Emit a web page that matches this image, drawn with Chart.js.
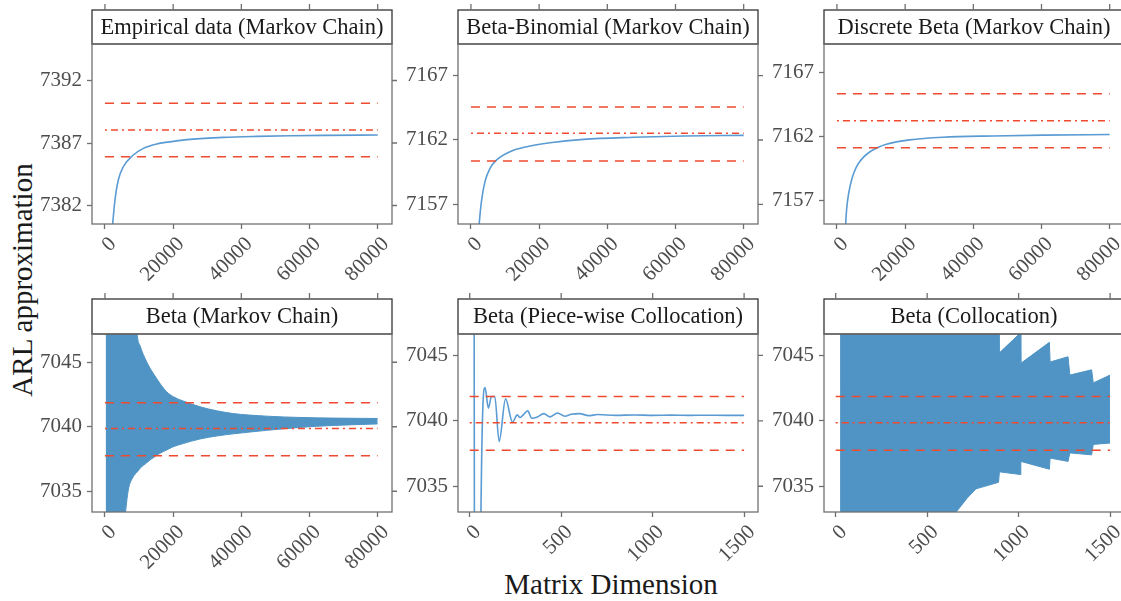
<!DOCTYPE html>
<html>
<head>
<meta charset="utf-8">
<script src="https://cdn.jsdelivr.net/npm/chart.js@4.4.0/dist/chart.umd.min.js"></script>
<style>
body { margin: 0; background: #fff; width: 1121px; height: 601px; overflow: hidden; position: relative; font-family: "Liberation Serif", serif; }
canvas { position: absolute; }
.axt { position: absolute; font-size: 29px; color: #1a1a1a; white-space: nowrap; transform: translate(-50%, -50%); }
#ytitle { left: 22px; top: 280px; transform: translate(-50%, -50%) rotate(-90deg); }
#xtitle { left: 611px; top: 584px; }
</style>
</head>
<body>
<div class="axt" id="ytitle">ARL approximation</div>
<div class="axt" id="xtitle">Matrix Dimension</div>
<script>
document.addEventListener("DOMContentLoaded", function () {

// tick labels
const bigTicks = [0, 20000, 40000, 60000, 80000];
const smallTicks = [0, 500, 1000, 1500];
const empTicksY = [7382, 7387, 7392];
const binTicksY = [7157, 7162, 7167];
const betaTicksY = [7035, 7040, 7045];

// panel titles
const titles = ["Empirical data (Markov Chain)", "Beta-Binomial (Markov Chain)", "Discrete Beta (Markov Chain)",
                "Beta (Markov Chain)", "Beta (Piece-wise Collocation)", "Beta (Collocation)"];

// reference lines: lower, centre, upper
const empRef = [7385.9, 7388.04, 7390.18];
const bbRef = [7160.37, 7162.52, 7164.56];
const dbRef = [7161.14, 7163.23, 7165.33];
const betaRef = [7037.75, 7039.86, 7041.86];

// Empirical data (Markov Chain)
const empX = [1800, 2260, 2940, 3920, 5390, 8330, 11270, 15200, 20100, 25000, 34800, 44600, 54400, 64200, 80000];
const empY = [7379.0, 7380.52, 7382.44, 7384.04, 7385.1, 7386.04, 7386.57, 7386.92, 7387.13, 7387.29, 7387.45, 7387.53, 7387.58, 7387.61, 7387.64];

// Beta-Binomial (Markov Chain)
const bbX = [2000, 2440, 3140, 4110, 5580, 7540, 11460, 16360, 23210, 33000, 47700, 62400, 80000];
const bbY = [7154.0, 7155.57, 7157.34, 7158.76, 7159.8, 7160.45, 7161.09, 7161.48, 7161.79, 7162.05, 7162.21, 7162.31, 7162.36];

// Discrete Beta (Markov Chain)
const dbX = [2100, 2550, 2700, 2930, 3300, 3700, 4220, 5000, 6160, 7800, 9590, 12000, 14490, 21330, 31100, 45770, 60440, 80000];
const dbY = [7153.3, 7155.2, 7155.85, 7156.6, 7157.35, 7157.95, 7158.55, 7159.2, 7159.85, 7160.4, 7160.8, 7161.15, 7161.4, 7161.74, 7161.95, 7162.05, 7162.11, 7162.16];

// Beta (Markov Chain): envelope of the oscillation
const bmcX = [200, 5870, 6850, 8300, 9480, 10270, 12230, 13200, 14180, 16140, 18100, 20050, 22980, 27870, 32770, 37650, 47440, 57210, 66990, 80000];
const bmcUpper = [7060, 7060, 7057, 7052, 7047.1, 7046.3, 7045.04, 7044.55, 7044.14, 7043.36, 7042.71, 7042.33, 7041.99, 7041.55, 7041.24, 7041.02, 7040.82, 7040.72, 7040.67, 7040.64];
const bmcLower = [7020, 7033.0, 7035.1, 7036.12, 7036.5, 7036.77, 7037.2, 7037.42, 7037.6, 7037.94, 7038.2, 7038.45, 7038.7, 7039.05, 7039.28, 7039.45, 7039.72, 7039.95, 7040.1, 7040.22];

// Beta (Piece-wise Collocation)
const pwX = [10, 45, 60, 84, 102, 119, 137, 161, 196, 234, 260, 275, 290, 317, 339, 370, 405, 440, 480, 520, 555, 600, 650, 700, 800, 900, 1000, 1100, 1200, 1300, 1400, 1500];
const pwY = [7200, 6900, 7031, 7042.54, 7040.97, 7041.86, 7041.86, 7038.42, 7041.68, 7039.9, 7040.46, 7040.25, 7040.42, 7040.76, 7040.2, 7040.3, 7040.55, 7040.3, 7040.6, 7040.35, 7040.5, 7040.55, 7040.4, 7040.48, 7040.42, 7040.45, 7040.42, 7040.44, 7040.42, 7040.43, 7040.42, 7040.42];

// Beta (Collocation): envelope of the oscillation
const colX = [24, 640, 657, 719, 767, 890, 895, 1008, 1012, 1168, 1172, 1270, 1280, 1399, 1408, 1500];
const colUpper = [7060, 7060, 7060, 7060, 7060, 7060, 7045.2, 7046.7, 7044.4, 7046.0, 7044.5, 7044.9, 7043.5, 7043.9, 7042.9, 7043.5];
const colLower = [7020, 7020, 7033.0, 7034.1, 7034.8, 7035.3, 7036.1, 7035.9, 7036.9, 7036.3, 7037.15, 7036.9, 7037.55, 7037.4, 7038.2, 7038.3];

const blue = '#5a9bd3';
const band = '#4f94c4';
const red = '#ef4a2e';
const tickGrey = '#4d4d4d';
const frameGrey = '#707070';
const tickFont = { family: 'Liberation Serif', size: 21 };

const pts = (xs, ys) => xs.map((x, i) => ({x: x, y: ys[i]}));

function refSets(ref, xEnd) {
    return ref.map((v, i) => ({
        data: [{x: 0, y: v}, {x: xEnd, y: v}],
        borderColor: red, borderWidth: 1.5, pointRadius: 0,
        borderDash: i === 1 ? [2, 4, 7, 4] : [9, 7],
        order: 0
    }));
}

const facetDeco = {
    id: 'facetDeco',
    afterDraw(chart, args, opts) {
        const ctx = chart.ctx, a = chart.chartArea;
        const sx = chart.scales.x, sy = chart.scales.y;
        const top = a.top - opts.stripH;
        ctx.save();
        ctx.fillStyle = '#fff';
        ctx.fillRect(a.left, top, a.right - a.left, opts.stripH);
        ctx.lineWidth = 1.3;
        ctx.strokeStyle = '#333';
        ctx.strokeRect(a.left, top, a.right - a.left, opts.stripH);
        ctx.fillStyle = '#1a1a1a';
        ctx.font = '22.5px "Liberation Serif"';
        ctx.textAlign = 'center';
        ctx.textBaseline = 'middle';
        ctx.fillText(opts.title, (a.left + a.right) / 2, top + opts.stripH / 2 + 1);
        ctx.strokeStyle = frameGrey;
        ctx.strokeRect(a.left, a.top, a.right - a.left, a.bottom - a.top);
        ctx.beginPath();
        sx.ticks.forEach(t => {
            const px = sx.getPixelForValue(t.value);
            ctx.moveTo(px, top); ctx.lineTo(px, top - 6);
        });
        sy.ticks.forEach(t => {
            const py = sy.getPixelForValue(t.value);
            ctx.moveTo(a.right, py); ctx.lineTo(a.right + 5, py);
        });
        ctx.stroke();
        ctx.restore();
    }
};

function makePanel(p) {
    const plotW = 300;
    const c = document.createElement('canvas');
    c.width = 60 + plotW + 15;
    c.height = 10 + p.stripH + p.plotH + 70;
    c.style.left = (p.left - 60) + 'px';
    c.style.top = (p.stripTop - 10) + 'px';
    document.body.appendChild(c);
    new Chart(c, {
        type: 'line',
        data: { datasets: p.datasets },
        options: {
            responsive: false,
            animation: false,
            layout: { padding: { top: 10 + p.stripH, right: 15, left: 0, bottom: 0 } },
            plugins: { legend: { display: false }, tooltip: { enabled: false },
                       facetDeco: { title: p.title, stripH: p.stripH } },
            elements: { line: { cubicInterpolationMode: 'monotone' } },
            scales: {
                x: {
                    type: 'linear', min: p.xMin, max: p.xMax,
                    afterBuildTicks: s => { s.ticks = p.xTicks.map(v => ({value: v})); },
                    afterFit: s => { s.height = 70; },
                    grid: { drawOnChartArea: false, tickLength: 5, tickColor: frameGrey, tickWidth: 1.3 },
                    border: { display: false },
                    ticks: { autoSkip: false, minRotation: 45, maxRotation: 45, padding: 3, labelOffset: 8,
                             color: tickGrey, font: tickFont, callback: v => String(v) }
                },
                y: {
                    type: 'linear', min: p.yMin, max: p.yMax,
                    afterBuildTicks: s => { s.ticks = p.yTicks.map(v => ({value: v})); },
                    afterFit: s => { s.width = 60; },
                    grid: { drawOnChartArea: false, tickLength: 5, tickColor: frameGrey, tickWidth: 1.3 },
                    border: { display: false },
                    ticks: { padding: 5, color: tickGrey, font: tickFont, callback: v => String(v) }
                }
            }
        },
        plugins: [facetDeco]
    });
}

function lineSet(xs, ys) {
    return { data: pts(xs, ys), borderColor: blue, borderWidth: 1.6, pointRadius: 0, order: 1 };
}
function bandSets(xs, up, lo, smooth) {
    const mode = smooth ? 'monotone' : 'default';
    return [
        { data: pts(xs, up), borderColor: band, backgroundColor: band, borderWidth: 1, pointRadius: 0, tension: 0, cubicInterpolationMode: mode, order: 1 },
        { data: pts(xs, lo), borderColor: band, backgroundColor: band, borderWidth: 1, pointRadius: 0, tension: 0, cubicInterpolationMode: mode, fill: '-1', order: 1 }
    ];
}

const row1 = { stripTop: 10, stripH: 34, plotH: 180 };
const row2 = { stripTop: 299, stripH: 35, plotH: 178 };
const big = { xMin: -3800, xMax: 84200, xTicks: bigTicks };
const small = { xMin: -64, xMax: 1576, xTicks: smallTicks };

makePanel(Object.assign({}, row1, big, { left: 92, title: titles[0], yMin: 7380.52, yMax: 7394.92, yTicks: empTicksY,
    datasets: refSets(empRef, 80000).concat([lineSet(empX, empY)]) }));
makePanel(Object.assign({}, row1, big, { left: 458, title: titles[1], yMin: 7155.47, yMax: 7169.46, yTicks: binTicksY,
    datasets: refSets(bbRef, 80000).concat([lineSet(bbX, bbY)]) }));
makePanel(Object.assign({}, row1, big, { left: 824, title: titles[2], yMin: 7155.2, yMax: 7169.2, yTicks: binTicksY,
    datasets: refSets(dbRef, 80000).concat([lineSet(dbX, dbY)]) }));
makePanel(Object.assign({}, row2, big, { left: 92, title: titles[3], yMin: 7033.39, yMax: 7047.19, yTicks: betaTicksY,
    datasets: refSets(betaRef, 80000).concat(bandSets(bmcX, bmcUpper, bmcLower, true)) }));
makePanel(Object.assign({}, row2, small, { left: 458, title: titles[4], yMin: 7033.03, yMax: 7046.64, yTicks: betaTicksY,
    datasets: refSets(betaRef, 1500).concat([lineSet(pwX, pwY)]) }));
makePanel(Object.assign({}, row2, small, { left: 824, title: titles[5], yMin: 7033.03, yMax: 7046.64, yTicks: betaTicksY,
    datasets: refSets(betaRef, 1500).concat(bandSets(colX, colUpper, colLower, false)) }));

});
</script>
</body>
</html>
